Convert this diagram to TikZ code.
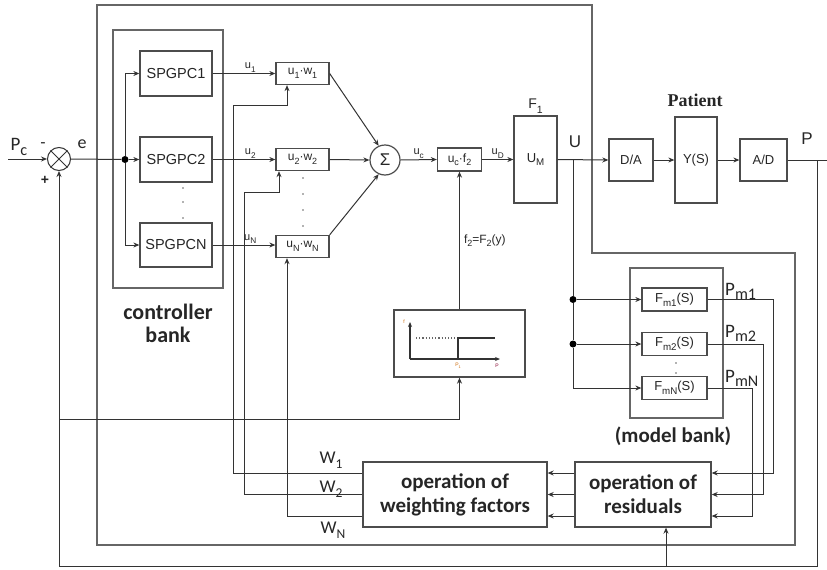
\documentclass[tikz,border=0pt]{standalone}
\usepackage{fontspec}
\setmainfont{Liberation Sans}
\newfontfamily\lblfont{Carlito}
\newfontfamily\serffont{Liberation Serif}
\usetikzlibrary{arrows.meta,calc}
\newcommand\lowsub[1]{\raisebox{-0.3em}{\scalebox{0.75}{#1}}}
\newcommand\bigsub[1]{\raisebox{-0.22em}{\scalebox{0.85}{#1}}}
\newcommand\fsz[1]{\fontsize{#1}{#1}\selectfont}
\tikzset{
  ln/.style={draw=black!80, line width=1pt},
  arr/.style={ln, -{Stealth[length=6pt,width=5pt]}},
  frm/.style={draw=black!60, line width=1.8pt},
  blk/.style={draw=black!70, line width=1.3pt, fill=white, inner sep=0pt, text=black!85},
  jdot/.style={circle, fill=black, inner sep=0pt, minimum size=7pt},
  sdot/.style={circle, fill=black!60, inner sep=0pt, minimum size=1.6pt},
  lbl/.style={text=black!85, inner sep=1pt},
  bigl/.style={text=black!85, font=\lblfont\bfseries\fontsize{21}{23}\selectfont, align=center, inner sep=0pt},
}
\begin{document}
\begin{tikzpicture}[x=1pt,y=-1pt]
\useasboundingbox (0,0) rectangle (827,570);

% outer frame
\draw[frm] (97,5) -- (592,5) -- (592,253) -- (795,253) -- (795,545) -- (97,545) -- cycle;

% controller bank frame
\node[frm, minimum width=110pt, minimum height=258pt, inner sep=0pt] (cbank) at (168,159) {};
\node[bigl, font=\lblfont\bfseries\fontsize{22}{23}\selectfont] (cbtxt) at (168,323) {controller\\bank};

% summing junction
\node[circle, draw=black!80, line width=1pt, minimum size=23pt, inner sep=0pt] (sj) at (59,159) {};
\draw[ln] (sj.north west) -- (sj.south east);
\draw[ln] (sj.north east) -- (sj.south west);
\coordinate (pin) at (8,159);
\draw[arr] (pin) -- (sj.west);
\node[lbl, font=\lblfont\fsz{19}] (pclbl) at (19,147) {P\bigsub{c}};
\node[lbl, font=\fsz{16}] (minus) at (43,145) {-};
\node[lbl, font=\fsz{14}\bfseries] (plus) at (45,180) {+};
\node[lbl, font=\lblfont\fsz{18}] (elbl) at (82,144) {e};

% controllers
\node[blk, minimum width=72pt, minimum height=45pt, font=\fsz{14.5}] (c1) at (176,73.5) {SPGPC1};
\node[blk, minimum width=72pt, minimum height=45pt, font=\fsz{14.5}] (c2) at (176,159.5) {SPGPC2};
\node[blk, minimum width=72pt, minimum height=44pt, font=\fsz{14.5}] (cN) at (176,245) {SPGPCN};
\node[sdot] (cd1) at (183,188) {};
\node[sdot] (cd2) at (183,202) {};
\node[sdot] (cd3) at (183,218) {};

\node[jdot] (d0) at (125,159.5) {};
\draw[ln] (sj.east) -- (d0);
\draw[arr] (d0) -- (c2.west);
\draw[arr] (d0) |- (c1.west);
\draw[arr] (d0) |- (cN.west);

% multiplier blocks
\node[blk, minimum width=53pt, minimum height=22pt, font=\fsz{12}] (m1) at (302.5,73.5) {u\lowsub{1}·w\lowsub{1}};
\node[blk, minimum width=53pt, minimum height=22pt, font=\fsz{12}] (m2) at (302.5,159.5) {u\lowsub{2}·w\lowsub{2}};
\node[blk, minimum width=53pt, minimum height=22pt, font=\fsz{12}] (mN) at (302.5,246.5) {u\lowsub{N}·w\lowsub{N}};
\node[sdot] (md1) at (303,178) {};
\node[sdot] (md2) at (303,194) {};
\node[sdot] (md3) at (303,210) {};
\node[sdot] (md4) at (303,226) {};

\draw[arr] (c1.east) -- node[lbl, above, pos=0.6, font=\fsz{11}] {u\lowsub{1}} (m1.west);
\draw[arr] (c2.east) -- node[lbl, above, pos=0.6, font=\fsz{11}] {u\lowsub{2}} (m2.west);
\draw[arr] (cN.east) -- node[lbl, above, pos=0.6, font=\fsz{11}] {u\lowsub{N}} (mN.west |- cN.east);

% sum
\node[circle, draw=black!70, line width=1.2pt, minimum size=30pt, inner sep=0pt, font=\fsz{17}, text=black!85] (sig) at (385,160) {Σ};
\draw[arr] (m1.east) -- (sig.114);
\draw[arr] (m2.east) -- (sig.west);
\draw[arr] (mN.north east) -- (sig.-114);

% uc f2 block
\node[blk, minimum width=44pt, minimum height=23pt, font=\fsz{12}] (ucf) at (459.5,159.5) {u\lowsub{c}·f\lowsub{2}};
\draw[arr] (sig.east) -- node[lbl, above, font=\fsz{11}] {u\lowsub{c}} (ucf.west);

% UM block
\node[blk, minimum width=43pt, minimum height=87pt, font=\fsz{13}] (um) at (535.5,159.5) {U\lowsub{M}};
\node[lbl, above=1pt, font=\fsz{14}] (f1lbl) at (um.north) {F\lowsub{1}};
\draw[arr] (ucf.east) -- node[lbl, above, font=\fsz{11}] {u\lowsub{D}} (um.west);

% patient chain
\node[blk, minimum width=44pt, minimum height=42pt, font=\fsz{13}] (da) at (631,160) {D/A};
\node[blk, minimum width=42pt, minimum height=86pt, font=\fsz{13}] (ys) at (696,160) {Y(S)};
\node[blk, minimum width=47pt, minimum height=42pt, font=\fsz{13}] (ad) at (763.5,160) {A/D};
\node[lbl, font=\serffont\bfseries\fsz{18}] (patlbl) at (695,100) {Patient};
\draw[arr] (um.east) -- (da.west);
\draw[arr] (da.east) -- (ys.west);
\draw[arr] (ys.east) -- (ad.west);
\coordinate (pout) at (827,160);
\draw[ln] (ad.east) -- (pout);
\node[lbl, font=\fsz{17}] (ulbl) at (575,142) {U};
\node[lbl, font=\fsz{17}] (plbl) at (807,139) {P};

% feedback
\coordinate (pfb) at (817,160);
\coordinate (bR) at (817,566);
\coordinate (bL) at (59,566);
\draw[arr] (pfb) -- (bR) -- (bL) -- (sj.south);

% graph block
\node[blk, minimum width=131pt, minimum height=67pt] (graph) at (459.5,343.5) {};
\draw[ln, line width=1.2pt, -{Stealth[length=5pt,width=4pt]}] (410,359) -- (410,322);
\draw[ln, line width=1.2pt, -{Stealth[length=5pt,width=4pt]}] (410,359) -- (500,359);
\draw[ln, line width=1.2pt] (458,359) -- (458,338) -- (495,338);
\draw[black!60, line width=1.2pt, dotted] (416,338) -- (455,338);
\node[font=\fsz{5}, text=orange!80!black] (gf) at (404,322) {f};
\node[font=\fsz{5}, text=orange!80!black] (gp1) at (458,366) {P\lowsub{1}};
\node[font=\fsz{5}, text=purple!70!black] (gp) at (497,366) {P};
\draw[arr] (graph.north) -- node[lbl, right=3pt, font=\fsz{12}] {f\lowsub{2}=F\lowsub{2}(y)} (ucf.south);
\coordinate (gL) at (59,419);
\coordinate (gB) at (459.5,419);
\draw[arr] (gL) -- (gB) -- (graph.south);

% model bank
\node[frm, minimum width=93pt, minimum height=150pt, inner sep=0pt] (mbank) at (676.5,343) {};
\node[bigl] (mbtxt) at (673,436) {(model bank)};
\node[blk, minimum width=65pt, minimum height=23pt, font=\fsz{13}] (fm1) at (674.5,299.5) {F\lowsub{m1}(S)};
\node[blk, minimum width=65pt, minimum height=23pt, font=\fsz{13}] (fm2) at (674.5,344) {F\lowsub{m2}(S)};
\node[blk, minimum width=65pt, minimum height=23pt, font=\fsz{13}] (fmN) at (674.5,388) {F\lowsub{mN}(S)};
\node[sdot] (fd1) at (676,363) {};
\node[sdot] (fd2) at (676,373) {};
\coordinate (uB) at (573,160);
\node[jdot] (d1) at (573,299.5) {};
\node[jdot] (d2) at (573,344) {};
\draw[ln] (uB) -- (d1) -- (d2);
\draw[arr] (d1) -- (fm1.west);
\draw[arr] (d2) -- (fm2.west);
\draw[arr] (d2) |- (fmN.west);
\node[lbl, anchor=west, font=\lblfont\fsz{19}] (pm1) at (724,291) {P\bigsub{m1}};
\node[lbl, anchor=west, font=\lblfont\fsz{19}] (pm2) at (724,333) {P\bigsub{m2}};
\node[lbl, anchor=west, font=\lblfont\fsz{19}] (pmN) at (724,378) {P\bigsub{mN}};

% residuals and weighting factors
\node[blk, minimum width=136pt, minimum height=65pt, font=\lblfont\bfseries\fontsize{21}{24}\selectfont, align=center] (res) at (643,494.5) {operation of\\residuals};
\node[blk, minimum width=184pt, minimum height=65pt, font=\lblfont\bfseries\fontsize{21}{24}\selectfont, align=center] (wf) at (455,494.5) {operation of\\weighting factors};

\draw[arr] (fm1.east) -| (773,473) -- ($(res.east)+(0,-21.5)$);
\draw[arr] (fm2.east) -| (763,494.5) -- (res.east);
\draw[arr] (fmN.east) -| (752,516) -- ($(res.east)+(0,21.5)$);

\draw[arr] ($(res.west)+(0,-21.5)$) -- ($(wf.east)+(0,-21.5)$);
\draw[arr] (res.west) -- (wf.east);
\draw[arr] ($(res.west)+(0,21.5)$) -- ($(wf.east)+(0,21.5)$);

\draw[arr] ($(wf.west)+(0,-21.5)$) -- (233,473) -- (233,105) -- (287,105) -- (m1.south -| 287,0);
\draw[arr] (wf.west) -- (244,494.5) -- (244,192) -- (279,192) -- (m2.south -| 279,0);
\draw[arr] ($(wf.west)+(0,21.5)$) -- (287,516) -- (mN.south -| 287,0);

\node[lbl, font=\lblfont\fsz{18}] (w1) at (331,460) {W\lowsub{1}};
\node[lbl, font=\lblfont\fsz{18}] (w2) at (331,489) {W\lowsub{2}};
\node[lbl, font=\lblfont\fsz{18}] (wN) at (333,530) {W\lowsub{N}};

% residual input from feedback
\coordinate (bres) at (666,566);
\draw[arr] (bres) -- (bres |- res.south);
\end{tikzpicture}
\end{document}
